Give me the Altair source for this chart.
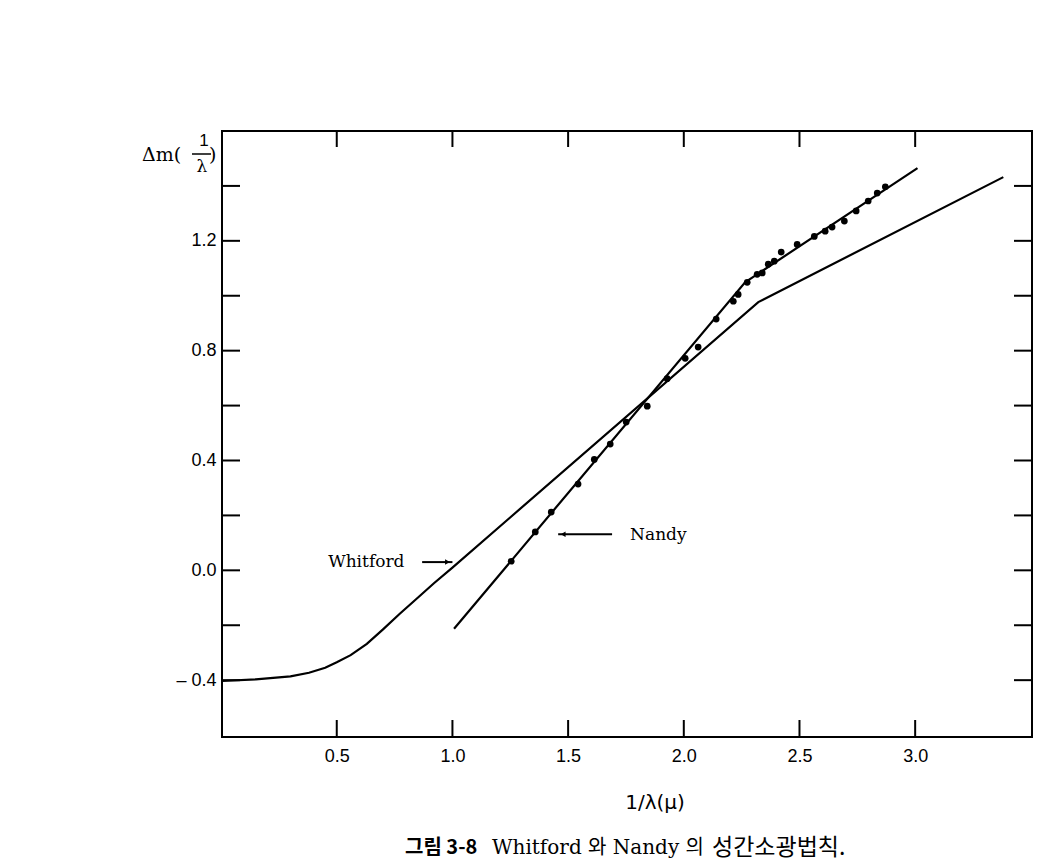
import altair as alt
import pandas as pd

# ---- data ----
nandy_pts_x = [1.254, 1.358, 1.427, 1.543, 1.613, 1.682, 1.751, 1.842, 1.928, 2.006,
               2.062, 2.140, 2.214, 2.235, 2.274, 2.317, 2.339, 2.365, 2.391, 2.421,
               2.490, 2.564, 2.611, 2.641, 2.694, 2.745, 2.797, 2.836, 2.871]
nandy_pts_y = [0.033, 0.140, 0.212, 0.314, 0.404, 0.460, 0.540, 0.598, 0.698, 0.772,
               0.813, 0.915, 0.980, 1.005, 1.049, 1.078, 1.083, 1.115, 1.126, 1.159,
               1.187, 1.216, 1.235, 1.250, 1.272, 1.309, 1.345, 1.374, 1.397]

nandy_line_x = [1.007, 2.265, 3.010]
nandy_line_y = [-0.213, 1.049, 1.465]

whitford_x = [0.004, 0.15, 0.30, 0.38, 0.45, 0.50, 0.56, 0.63, 0.70, 0.77, 0.85, 0.92, 1.00, 2.322, 3.381]
whitford_y = [-0.403, -0.397, -0.386, -0.373, -0.355, -0.335, -0.309, -0.268, -0.215, -0.160,
              -0.100, -0.047, 0.010, 0.977, 1.432]

x_tick_values = [0.5, 1.0, 1.5, 2.0, 2.5, 3.0]
y_label_values = [-0.4, 0.0, 0.4, 0.8, 1.2]
y_tick_values = [-0.4, -0.2, 0.0, 0.2, 0.4, 0.6, 0.8, 1.0, 1.2, 1.4]

label_names = ["Whitford", "Nandy"]
label_x = [0.463, 1.768]
label_y = [0.030, 0.130]

arrow_x1 = [0.869, 1.457]
arrow_x2 = [1.000, 1.690]
arrow_y = [0.030, 0.131]

x_title = "1/λ(μ)"
caption_fig = "그림 3-8"
caption_text = "Whitford 와  Nandy 의"
caption_end = "성간소광법칙."
ytitle_parts = ["Δm(", "1", "λ", ")"]

# ---- layout ----
W, H = 810, 606
PL, PT = 214, 123
xs = alt.Scale(domain=[0.004, 3.505], nice=False, zero=False)
ys = alt.Scale(domain=[-0.607, 1.600], nice=False, zero=False)

x_axis = alt.Axis(values=x_tick_values, format=".1f", ticks=False, domain=False, grid=False,
                  labelFont="Liberation Sans", labelFontSize=18, labelColor="black",
                  labelPadding=10, title=None)
y_axis = alt.Axis(values=y_label_values, ticks=False, domain=False, grid=False,
                  labelExpr="datum.value < 0 ? '– ' + format(-datum.value, '.1f') : format(datum.value, '.1f')",
                  labelFont="Liberation Sans", labelFontSize=18, labelColor="black",
                  labelPadding=6, title=None)

X = alt.X("x:Q", scale=xs, axis=x_axis)
Y = alt.Y("y:Q", scale=ys, axis=y_axis)

pts = pd.DataFrame({"x": nandy_pts_x, "y": nandy_pts_y})
nl = pd.DataFrame({"x": nandy_line_x, "y": nandy_line_y, "o": range(len(nandy_line_x))})
wl = pd.DataFrame({"x": whitford_x, "y": whitford_y, "o": range(len(whitford_x))})

whitford = alt.Chart(wl).mark_line(color="black", strokeWidth=2.2).encode(x=X, y=Y, order="o:Q")
nandy = alt.Chart(nl).mark_line(color="black", strokeWidth=2.2).encode(x=X, y=Y, order="o:Q")
points = alt.Chart(pts).mark_circle(color="black", opacity=1, size=45).encode(x=X, y=Y)

labels = alt.Chart(pd.DataFrame({"x": label_x, "y": label_y, "t": label_names})).mark_text(
    align="left", baseline="middle", font="DejaVu Serif", fontSize=17, color="black"
).encode(x=X, y=Y, text="t:N")

arrows = alt.Chart(pd.DataFrame({"x": arrow_x1, "x2": arrow_x2, "y": arrow_y})).mark_rule(
    color="black", strokeWidth=2).encode(x=X, x2="x2:Q", y=Y)
head_r = alt.Chart(pd.DataFrame({"x": [arrow_x2[0]], "y": [arrow_y[0]]})).mark_point(
    shape="triangle-right", filled=True, color="black", size=30, opacity=1, xOffset=-5).encode(x=X, y=Y)
head_l = alt.Chart(pd.DataFrame({"x": [arrow_x1[1]], "y": [arrow_y[1]]})).mark_point(
    shape="triangle-left", filled=True, color="black", size=30, opacity=1, xOffset=5).encode(x=X, y=Y)

# inward ticks
yt = pd.DataFrame({"y": y_tick_values})
xt = pd.DataFrame({"x": x_tick_values})
tick_left = alt.Chart(yt).mark_rule(color="black", strokeWidth=2).encode(y=Y, x=alt.value(0), x2=alt.value(18))
tick_right = alt.Chart(yt).mark_rule(color="black", strokeWidth=2).encode(y=Y, x=alt.value(W - 18), x2=alt.value(W))
tick_bottom = alt.Chart(xt).mark_rule(color="black", strokeWidth=2).encode(x=X, y=alt.value(H - 17), y2=alt.value(H))
tick_top = alt.Chart(xt).mark_rule(color="black", strokeWidth=2).encode(x=X, y=alt.value(0), y2=alt.value(16))

# axis titles & caption as text (positions relative to plot top-left)
def txt(s, px, py, size, font="Liberation Serif", weight="normal", align="center", style="normal"):
    return alt.Chart(pd.DataFrame({"t": [s]})).mark_text(
        align=align, baseline="middle", font=font, fontSize=size, fontWeight=weight,
        fontStyle=style, color="black"
    ).encode(x=alt.value(px), y=alt.value(py), text="t:N")

OX, OY = PL + 8, PT + 8
xtitle = txt(x_title, 655 - OX, 803 - OY, 20, font="DejaVu Sans")
cap1 = txt(caption_fig, 405 - OX, 848 - OY, 20, font="Noto Sans CJK KR", weight="bold", align="left")
cap2 = txt(caption_text, 492 - OX, 848 - OY, 20, font="DejaVu Serif, Noto Sans CJK KR", align="left")
cap3 = txt(caption_end, 712 - OX, 848 - OY, 23, font="Noto Sans CJK KR", align="left")

yt1 = txt(ytitle_parts[0], 142 - OX, 155 - OY, 19, font="DejaVu Serif", align="left")
yt2 = txt(ytitle_parts[1], 204 - OX, 141 - OY, 17, font="Liberation Sans")
yt3 = txt(ytitle_parts[2], 202 - OX, 167 - OY, 17, font="DejaVu Serif")
yt4 = txt(ytitle_parts[3], 209 - OX, 155 - OY, 19, font="DejaVu Serif", align="left")
ybar = alt.Chart(pd.DataFrame({"t": [1]})).mark_rule(color="black", strokeWidth=1.5).encode(
    x=alt.value(192 - OX), x2=alt.value(211 - OX), y=alt.value(154 - OY))

chart = alt.layer(
    whitford, nandy, points, labels, arrows, head_r, head_l,
    tick_left, tick_right, tick_bottom, tick_top,
    xtitle, cap1, cap2, cap3, yt1, yt2, yt3, yt4, ybar
).properties(
    width=W, height=H,
    padding={"left": PL, "top": PT, "right": 3, "bottom": 124},
    autosize=alt.AutoSizeParams(type="none"),
    background="white"
).configure_view(stroke="black", strokeWidth=2)

chart.save("out.html", embed_options={"renderer": "svg", "actions": False})
